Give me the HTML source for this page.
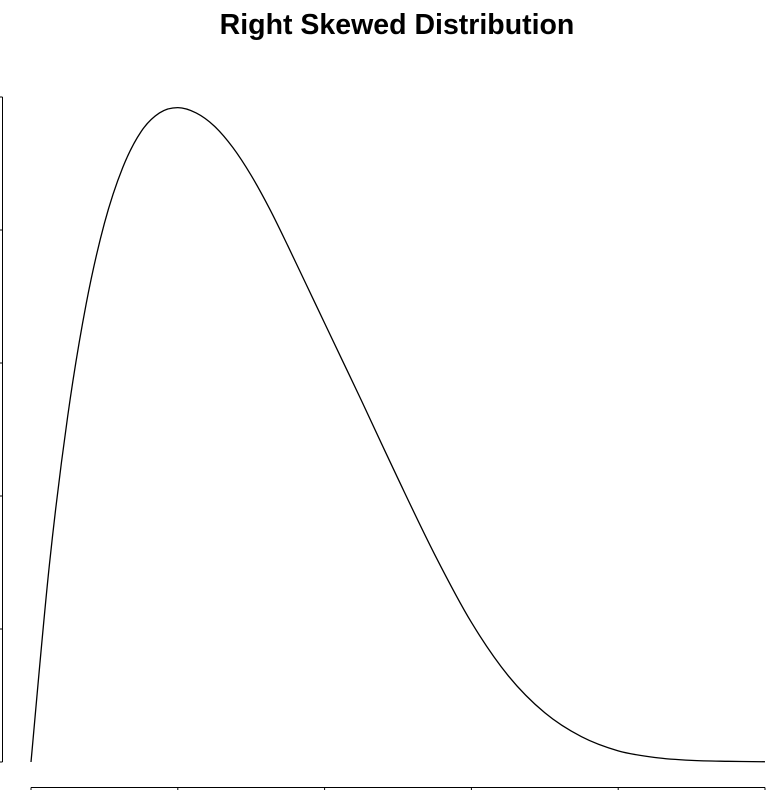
<!DOCTYPE html>
<html><head><meta charset="utf-8"><style>
html,body{margin:0;padding:0;background:#fff;}
svg{display:block;}
</style></head><body>
<svg id="chart" width="768" height="790">
<text x="397" y="34" text-anchor="middle" font-family="'Liberation Sans',sans-serif" font-weight="bold" font-size="28.5" fill="#000">Right Skewed Distribution</text>
<g id="yaxis"></g>
<g id="xaxis"></g>
<path id="curve" fill="none" stroke="#000" stroke-width="1.3"></path>
</svg>
<script>
const xValues = [0,0.125,0.25,0.375,0.5,0.625,0.75,0.875,1,1.125,1.25,1.375,1.5,1.625,1.75,1.875,2,2.125,2.25,2.5,2.75,3,3.25,3.5,3.75,4,4.25,4.5,4.75,5];
const densityValues = [0,0.148,0.260,0.344,0.405,0.447,0.474,0.488,0.492,0.488,0.478,0.462,0.441,0.416,0.388,0.359,0.330,0.301,0.272,0.213,0.156,0.105,0.065,0.037,0.019,0.0084,0.0034,0.0012,0.0005,0.0002];
const xTicks = [0,1,2,3,4,5];
const yTicks = [0,0.1,0.2,0.3,0.4,0.5];
function xs(v){return 31 + v*146.8;}
function ys(v){return 762 - v*1330;}
const NS='http://www.w3.org/2000/svg';
const ya=document.getElementById('yaxis'), xa=document.getElementById('xaxis');
function line(g,x1,y1,x2,y2,name){const l=document.createElementNS(NS,'line');
l.setAttribute('x1',x1);l.setAttribute('y1',y1);l.setAttribute('x2',x2);l.setAttribute('y2',y2);
l.setAttribute('stroke','#000');l.setAttribute('stroke-width','1');


g.appendChild(l);}
line(ya,2.5,ys(yTicks[0]),2.5,ys(yTicks[yTicks.length-1]),'y-axis-line');
yTicks.forEach(t=>line(ya,-6,ys(t),2.5,ys(t),'y-tick'));
line(xa,xs(xTicks[0]),787.5,xs(xTicks[xTicks.length-1]),787.5,'x-axis-line');
xTicks.forEach(t=>line(xa,xs(t),787.5,xs(t),796,'x-tick'));
const pts=xValues.map((x,i)=>[xs(x),ys(densityValues[i])]);
let d='M'+pts[0][0]+','+pts[0][1];
for(let i=0;i<pts.length-1;i++){
const p0=pts[Math.max(0,i-1)],p1=pts[i],p2=pts[i+1],p3=pts[Math.min(pts.length-1,i+2)];
const c1=[p1[0]+(p2[0]-p0[0])/6,p1[1]+(p2[1]-p0[1])/6];
const c2=[p2[0]-(p3[0]-p1[0])/6,p2[1]-(p3[1]-p1[1])/6];
d+=' C'+c1[0]+','+c1[1]+' '+c2[0]+','+c2[1]+' '+p2[0]+','+p2[1];}
document.getElementById('curve').setAttribute('d',d);
</script>
</body></html>
